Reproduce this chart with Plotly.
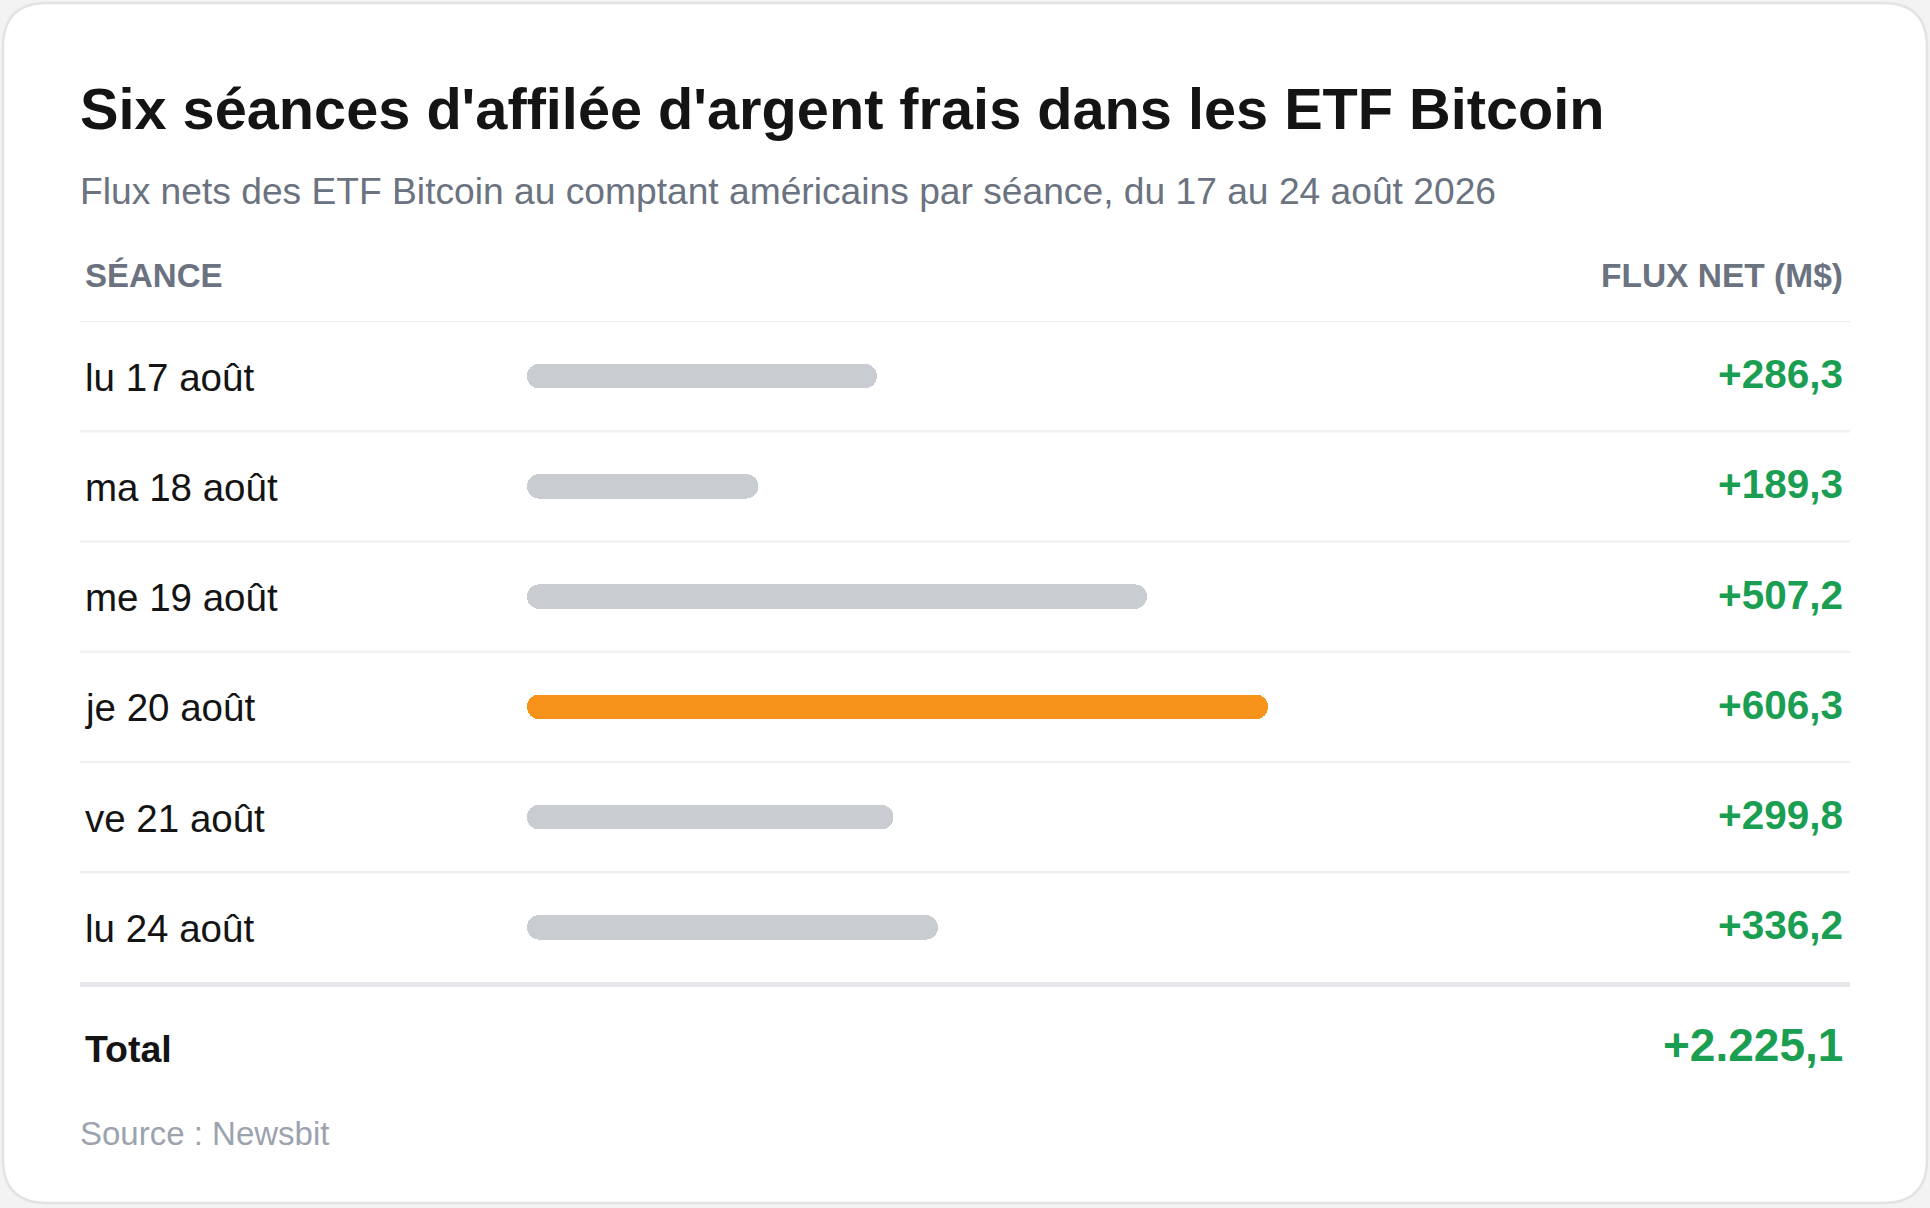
import plotly.graph_objects as go

# ---- data ----
seances = ["lu 17 août", "ma 18 août", "me 19 août", "je 20 août", "ve 21 août", "lu 24 août"]
flux_net = [286.3, 189.3, 507.2, 606.3, 299.8, 336.2]
highlight = "je 20 août"

title = "Six séances d'affilée d'argent frais dans les ETF Bitcoin"
subtitle = "Flux nets des ETF Bitcoin au comptant américains par séance, du 17 au 24 août 2026"
col_left = "SÉANCE"
col_right = "FLUX NET (M$)"
total_label = "Total"
source = "Source : Newsbit"

# ---- style ----
W, H = 1930, 1208
FONT = "Liberation Sans, Arial, Helvetica, sans-serif"
GREEN = "#1a9e52"
GRAY_BAR = "#c9ccd1"
ORANGE = "#f7931a"
TXT = "#141414"
MUTED = "#6b7280"
LIGHT = "#9ca3af"


def fx(px):
    return px / W


def fy(py):
    return 1 - py / H


def fr(v, plus=True):
    s = f"{v:,.1f}".replace(",", "X").replace(".", ",").replace("X", ".")
    return ("+" if plus and v >= 0 else "") + s


total = round(sum(flux_net), 1)
colors = [ORANGE if s == highlight else GRAY_BAR for s in seances]

fig = go.Figure()
# each pill = two overlapping halves, each rounded at its outer end
half = [v * 0.55 for v in flux_net]
fig.add_trace(go.Bar(  # left half, drawn from the middle back to 0 (rounded at 0)
    orientation="h",
    base=half,
    x=[-h for h in half],
    y=seances,
    marker=dict(color=colors, cornerradius=12, line=dict(width=0)),
    width=0.222,
    hoverinfo="skip",
    showlegend=False,
))
fig.add_trace(go.Bar(  # right half, from the middle to the value (rounded at value)
    orientation="h",
    base=[v * 0.45 for v in flux_net],
    x=[v * 0.55 for v in flux_net],
    y=seances,
    marker=dict(color=colors, cornerradius=12, line=dict(width=0)),
    width=0.222,
    hoverinfo="skip",
    showlegend=False,
))

# axes: 0 -> x=527px, scale ~1.222 px per M$
x0_px, x1_px = 527, 1843
px_per_unit = 1.2222
fig.update_xaxes(domain=[fx(x0_px), fx(x1_px)], range=[0, (x1_px - x0_px) / px_per_unit],
                 visible=False, showgrid=False, zeroline=False, fixedrange=True)
top_px, bot_px = 321, 982.5
fig.update_yaxes(domain=[fy(bot_px), fy(top_px)], type="category", categoryarray=seances,
                 range=[len(seances) - 0.5, -0.5], visible=False, showgrid=False,
                 zeroline=False, fixedrange=True)

shapes = []
# card
r = 44
L, T, R, B = 3, 3, 1927, 1203
path = (f"M {fx(L + r)},{fy(T)} L {fx(R - r)},{fy(T)} Q {fx(R)},{fy(T)} {fx(R)},{fy(T + r)} "
        f"L {fx(R)},{fy(B - r)} Q {fx(R)},{fy(B)} {fx(R - r)},{fy(B)} "
        f"L {fx(L + r)},{fy(B)} Q {fx(L)},{fy(B)} {fx(L)},{fy(B - r)} "
        f"L {fx(L)},{fy(T + r)} Q {fx(L)},{fy(T)} {fx(L + r)},{fy(T)} Z")
shapes.append(dict(type="path", xref="paper", yref="paper", path=path,
                   fillcolor="white", line=dict(color="#e3e3e3", width=2.5), layer="below"))
# separators
line_x0, line_x1 = fx(80), fx(1850)
shapes.append(dict(type="line", xref="paper", yref="y", x0=line_x0, x1=line_x1,
                   y0=-0.5, y1=-0.5, line=dict(color="#eeeeee", width=2.5)))
for i in range(len(seances) - 1):
    shapes.append(dict(type="line", xref="paper", yref="y", x0=line_x0, x1=line_x1,
                       y0=i + 0.5, y1=i + 0.5, line=dict(color="#f0f0f0", width=2.5)))
shapes.append(dict(type="line", xref="paper", yref="paper", x0=line_x0, x1=line_x1,
                   y0=fy(984.5), y1=fy(984.5), line=dict(color="#e5e7eb", width=5)))

ann = []
ann.append(dict(text=title, x=fx(77.5), y=fy(109), xref="paper", yref="paper",
                xanchor="left", yanchor="middle", showarrow=False,
                font=dict(family=FONT, size=57.7, color=TXT, weight="bold")))
ann.append(dict(text=subtitle, x=fx(77.5), y=fy(191), xref="paper", yref="paper",
                xanchor="left", yanchor="middle", showarrow=False,
                font=dict(family=FONT, size=37.2, color=MUTED)))
ann.append(dict(text=col_left, x=fx(83), y=fy(276), xref="paper", yref="paper",
                xanchor="left", yanchor="middle", showarrow=False,
                font=dict(family=FONT, size=33, color=MUTED, weight="bold")))
ann.append(dict(text=col_right, x=fx(1845), y=fy(276), xref="paper", yref="paper",
                xanchor="right", yanchor="middle", showarrow=False,
                font=dict(family=FONT, size=33.5, color=MUTED, weight="bold")))
for s, v in zip(seances, flux_net):
    ann.append(dict(text=s, x=fx(83), y=s, xref="paper", yref="y",
                    xanchor="left", yanchor="middle", showarrow=False, yshift=-1,
                    font=dict(family=FONT, size=38.5, color=TXT)))
    ann.append(dict(text=fr(v), x=fx(1845), y=s, xref="paper", yref="y",
                    xanchor="right", yanchor="middle", showarrow=False, yshift=2,
                    font=dict(family=FONT, size=40.5, color=GREEN, weight="bold")))
ann.append(dict(text=total_label, x=fx(83), y=fy(1048.5), xref="paper", yref="paper",
                xanchor="left", yanchor="middle", showarrow=False,
                font=dict(family=FONT, size=37.5, color=TXT, weight="bold")))
ann.append(dict(text=fr(total), x=fx(1845), y=fy(1045), xref="paper", yref="paper",
                xanchor="right", yanchor="middle", showarrow=False,
                font=dict(family=FONT, size=46, color=GREEN, weight="bold")))
ann.append(dict(text=source, x=fx(77.5), y=fy(1133.5), xref="paper", yref="paper",
                xanchor="left", yanchor="middle", showarrow=False,
                font=dict(family=FONT, size=33, color=LIGHT)))

fig.update_layout(
    width=W, height=H,
    margin=dict(l=0, r=0, t=0, b=0, pad=0),
    paper_bgcolor="#f3f3f3",
    plot_bgcolor="rgba(0,0,0,0)",
    shapes=shapes,
    annotations=ann,
    barmode="overlay",
    bargap=0,
    showlegend=False,
)

fig.write_html("out.html", config={"displayModeBar": False, "staticPlot": True},
               post_script="document.body.style.margin='0';document.body.style.overflow='hidden';")
